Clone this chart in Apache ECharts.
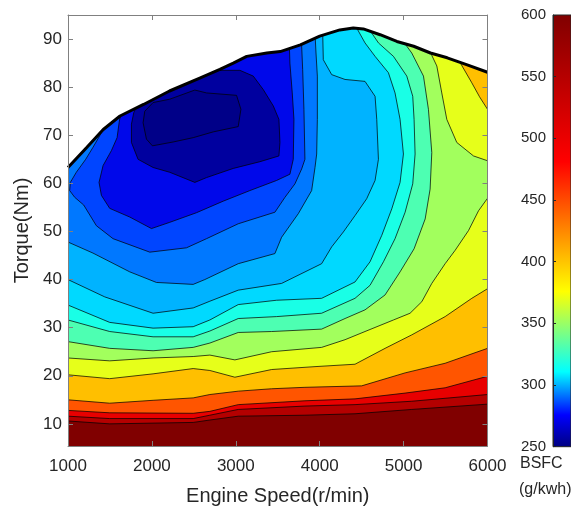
<!DOCTYPE html>
<html><head><meta charset="utf-8">
<script src="https://cdn.jsdelivr.net/npm/echarts@6/dist/echarts.min.js"></script>
<style>html,body{margin:0;padding:0;background:#fff}#chart{width:571px;height:511px}</style>
</head><body><div id="chart"></div>
<script>
// ---------------- data ----------------
const speedTicks  = [1000, 2000, 3000, 4000, 5000, 6000];
const torqueTicks = [10, 20, 30, 40, 50, 60, 70, 80, 90];
const bsfcTicks   = [250, 300, 350, 400, 450, 500, 550, 600];

// full-load (max torque) curve
const fullLoadSpeed  = [1000,1220,1420,1620,1900,2210,2570,2810,2970,3130,3370,3530,3770,4000,4240,4400,4520,4720,4920,5120,5320,5520,5750,6000];
const fullLoadTorque = [63.3,67.4,71.2,74.0,76.4,79.2,81.9,83.7,85.0,86.4,87.1,87.4,88.8,90.6,91.9,92.3,92.1,90.9,89.5,88.5,87.1,86.1,84.7,83.1];

// iso-BSFC contour lines, [speed r/min, torque Nm], innermost (c01) to outermost (c15)
const c01 = [[1915,75.0],[2014,76.8],[2213,77.5],[2512,79.4],[2651,78.8],[3009,78.3],[3061,75.4],[3029,71.8],[2731,70.7],[2492,69.5],[2253,68.6],[2006,67.8],[1935,69.2],[1895,72.6],[1915,75.0]];
const c02 = [[1855,77.5],[1784,74.7],[1756,72.3],[1756,68.5],[1835,65.0],[2014,63.3],[2213,62.3],[2512,60.2],[2651,61.2],[2969,63.1],[3287,64.5],[3514,65.7],[3526,68.5],[3514,73.3],[3447,76.1],[3327,79.5],[3208,82.3],[3049,83.5],[2810,83.5],[2631,83.0],[2611,84.0]];
const c03 = [[1636,75.4],[1609,72.6],[1585,69.5],[1517,66.8],[1418,63.7],[1370,60.2],[1398,57.5],[1497,54.8],[1736,53.0],[1995,50.6],[2213,51.9],[2532,53.9],[2850,56.3],[3168,58.5],[3486,60.6],[3645,61.9],[3685,65.0],[3693,73.3],[3673,78.8],[3645,85.0],[3637,89.5]];
const c04 = [[1457,72.6],[1378,69.9],[1298,67.5],[1211,65.0],[1099,62.3],[1028,60.2],[1020,58.5],[1080,57.1],[1187,55.5],[1338,51.2],[1537,48.5],[1975,45.7],[2412,46.6],[2651,48.5],[3029,51.6],[3466,54.0],[3586,57.1],[3705,59.9],[3785,63.0],[3824,65.0],[3812,75.4],[3797,83.7],[3781,90.2]];
const c05 = [[1000,47.8],[1298,45.5],[1736,41.6],[2054,39.4],[2492,39.0],[2631,40.0],[3029,43.3],[3466,45.4],[3546,48.8],[3745,53.7],[3904,58.5],[3944,63.3],[3964,66.1],[3972,73.3],[3972,82.3],[3956,87.1],[3944,91.2]];
const c06 = [[1000,40.0],[1438,36.4],[2014,33.0],[2492,34.1],[2691,35.5],[3029,37.8],[3546,39.2],[4023,43.3],[4143,46.8],[4282,49.9],[4421,53.3],[4560,56.8],[4660,60.6],[4700,65.0],[4680,73.3],[4660,78.1],[4540,81.2],[4302,81.6],[4143,82.6],[4043,85.7],[4035,91.9]];
const c07 = [[1000,34.7],[1497,31.1],[2014,29.9],[2492,30.2],[2691,31.6],[3029,34.8],[3486,35.7],[4023,36.1],[4421,39.5],[4600,43.7],[4740,49.2],[4859,54.7],[4958,60.2],[4998,66.1],[4958,73.3],[4898,78.8],[4819,83.0],[4660,86.4],[4540,89.2],[4409,93.3]];
const c08 = [[1000,31.6],[1497,29.2],[2014,28.1],[2492,28.1],[2691,29.3],[3029,31.9],[3486,32.3],[4023,33.0],[4421,36.1],[4600,38.8],[4760,43.7],[4898,48.5],[5018,54.0],[5109,59.9],[5137,66.1],[5125,73.3],[5109,78.1],[5038,82.3],[4879,86.4],[4700,89.2],[4552,93.0]];
const c09 = [[1000,27.1],[1497,25.7],[2014,25.2],[2492,25.9],[2691,26.8],[3029,29.0],[3427,29.2],[4023,29.7],[4302,31.9],[4540,33.7],[4779,36.8],[4958,41.6],[5125,46.4],[5257,52.6],[5316,58.8],[5336,66.4],[5296,75.4],[5237,82.3],[5097,87.1],[4938,90.9]];
const c10 = [[1000,23.7],[1497,23.1],[2014,23.7],[2492,24.0],[2691,24.3],[2989,23.3],[3427,25.0],[4023,25.9],[4302,27.5],[4540,29.2],[4879,31.6],[5077,33.0],[5217,35.4],[5336,39.2],[5495,43.3],[5615,46.1],[5774,50.2],[5893,54.3],[6000,56.9]];
const c10b = [[6000,64.7],[5833,65.7],[5634,68.5],[5515,73.3],[5455,78.8],[5396,84.4],[5296,88.1]];
const c11 = [[1000,20.2],[1497,19.4],[2014,20.4],[2492,21.5],[2691,21.1],[2989,19.7],[3427,21.3],[3944,21.9],[4421,22.4],[4779,25.7],[5097,28.5],[5495,32.3],[5813,36.1],[6000,38.1]];
const c11b = [[6000,75.4],[5905,78.0],[5813,80.9],[5654,85.7]];
const c12 = [[1000,15.0],[1497,14.3],[2014,14.9],[2492,15.4],[2691,16.1],[3029,16.8],[3427,17.3],[3824,17.6],[4500,17.9],[5018,20.6],[5495,22.6],[6000,25.7]];
const c13 = [[1000,12.8],[1497,12.3],[2492,12.2],[2691,12.6],[3029,14.0],[3824,14.8],[4421,15.2],[5018,16.4],[5495,17.5],[6000,19.9]];
const c14 = [[1000,11.6],[1497,11.1],[2492,11.1],[2691,11.8],[3029,13.0],[3824,13.7],[4421,14.0],[5097,14.7],[6000,16.1]];
const c15 = [[1000,10.6],[1497,10.0],[2492,10.3],[2691,10.8],[3029,11.6],[3824,11.8],[4421,12.1],[5097,13.0],[6000,14.1]];

// colour bar key points (value -> jet colour)
const cbStopValues = [250, 276, 311, 376, 481, 600];
const cbStopColors = ['#000080', '#0000ff', '#00ffff', '#ffff00', '#ff0000', '#800000'];

// ---------------- styles ----------------
const bandColors = ['#800000','#b40000','#e80000','#ff5500','#ffbf00','#e6ff1a','#a2ff5d','#4dffb2','#19ffe6','#00d9ff','#00b3ff','#0078ff','#0045ff','#0008ea','#00009f','#000088'];
const FONT = 'Liberation Sans, Arial, Helvetica, sans-serif';
const AXIS_GRAY = '#808080';
const TXT = '#262626';
const Y_MIN = 5.4, Y_TOP = 95;

function closeToTop(line) {
  const f = line[0], l = line[line.length - 1];
  return line.concat([[l[0], Y_TOP], [f[0], Y_TOP]]);
}
const regionPolys = [
  [[1000, Y_MIN], [6000, Y_MIN], [6000, Y_TOP], [1000, Y_TOP]],
  closeToTop(c15), closeToTop(c14), closeToTop(c13), closeToTop(c12),
  closeToTop(c11.concat(c11b)), closeToTop(c10.concat(c10b)),
  closeToTop(c09), closeToTop(c08), closeToTop(c07), closeToTop(c06), closeToTop(c05),
  closeToTop(c04), closeToTop(c03), closeToTop(c02), c01
];
const contourLines = [c01,c02,c03,c04,c05,c06,c07,c08,c09,c10,c10b,c11,c11b,c12,c13,c14,c15];
const fullLoad = fullLoadSpeed.map((s, i) => [s, fullLoadTorque[i]]);
const maskPoly = fullLoad.concat([[6000, Y_TOP], [1000, Y_TOP]]);

const chart = echarts.init(document.getElementById('chart'), null, {renderer: 'canvas'});

function tickAxis(extra) {
  return Object.assign({
    axisLine: {show: true, onZero: false, lineStyle: {color: AXIS_GRAY, width: 1}},
    axisTick: {show: true, inside: true, length: 5, lineStyle: {color: AXIS_GRAY}},
    splitLine: {show: false},
    z: 10
  }, extra);
}

const option = {
  animation: false,
  backgroundColor: '#fff',
  textStyle: {fontFamily: FONT},
  grid: [
    {left: 68, top: 15, width: 419.5, height: 432.7},
    {left: 553, top: 15, width: 18, height: 431.7}
  ],
  xAxis: [
    tickAxis({type: 'value', gridIndex: 0, min: 1000, max: 6000, interval: 1000, position: 'bottom',
      axisLabel: {fontSize: 17, color: TXT, margin: 12, fontFamily: FONT, formatter: v => String(v)},
      name: 'Engine Speed(r/min)', nameLocation: 'middle', nameGap: 40,
      nameTextStyle: {fontSize: 20, color: TXT, fontFamily: FONT}}),
    tickAxis({type: 'value', gridIndex: 0, min: 1000, max: 6000, interval: 1000, position: 'top',
      axisLabel: {show: false}}),
    {type: 'value', gridIndex: 1, min: 0, max: 1, show: false}
  ],
  yAxis: [
    tickAxis({type: 'value', gridIndex: 0, min: Y_MIN, max: Y_TOP, splitNumber: 9, position: 'left',
      axisTick: {show: true, inside: true, length: 5, lineStyle: {color: AXIS_GRAY}, customValues: torqueTicks},
      axisLabel: {fontSize: 17, color: TXT, margin: 6, fontFamily: FONT, customValues: torqueTicks,
        formatter: v => (torqueTicks.indexOf(Math.round(v)) >= 0 && Math.abs(v - Math.round(v)) < 1e-6) ? String(Math.round(v)) : ''},
      name: 'Torque(Nm)', nameLocation: 'middle', nameGap: 32, nameRotate: 90,
      nameTextStyle: {fontSize: 20, color: TXT, fontFamily: FONT}}),
    tickAxis({type: 'value', gridIndex: 0, min: Y_MIN, max: Y_TOP, splitNumber: 9, position: 'right',
      axisTick: {show: true, inside: true, length: 5, lineStyle: {color: AXIS_GRAY}, customValues: torqueTicks},
      axisLabel: {show: false}}),
    {type: 'value', gridIndex: 1, min: 250, max: 600, interval: 50, position: 'left', z: 10,
      axisLine: {show: true, lineStyle: {color: TXT, width: 1}},
      axisTick: {show: true, inside: true, length: 3, lineStyle: {color: TXT}},
      axisLabel: {fontSize: 15, color: TXT, margin: 7, fontFamily: FONT},
      splitLine: {show: false}}
  ],
  graphic: [
    {type: 'text', left: 520, top: 456, style: {text: 'BSFC', fontSize: 16, fill: TXT, fontFamily: FONT}},
    {type: 'text', left: 519, top: 482, style: {text: '(g/kwh)', fontSize: 16, fill: TXT, fontFamily: FONT}}
  ],
  series: [
    { // filled iso-BSFC bands
      type: 'custom', xAxisIndex: 0, yAxisIndex: 0, clip: true, z: 1, silent: true,
      data: regionPolys.map((p, i) => [1000, 10, i]),
      renderItem: (params, api) => {
        const i = api.value(2);
        return {type: 'polygon', shape: {points: regionPolys[i].map(p => api.coord(p))},
          style: {fill: bandColors[i], stroke: null}};
      }
    },
    { // contour lines
      type: 'custom', xAxisIndex: 0, yAxisIndex: 0, clip: true, z: 2, silent: true,
      data: contourLines.map((p, i) => [1000, 10, i]),
      renderItem: (params, api) => {
        const i = api.value(2);
        return {type: 'polyline', shape: {points: contourLines[i].map(p => api.coord(p))},
          style: {fill: null, stroke: '#000', lineWidth: 0.8, opacity: 0.9}};
      }
    },
    { // white area above the full-load curve
      type: 'custom', xAxisIndex: 0, yAxisIndex: 0, clip: true, z: 3, silent: true,
      data: [[1000, 10, 0]],
      renderItem: (params, api) => ({type: 'polygon', shape: {points: maskPoly.map(p => api.coord(p))},
        style: {fill: '#fff', stroke: null}})
    },
    { // full-load curve
      type: 'line', xAxisIndex: 0, yAxisIndex: 0, z: 4, silent: true,
      data: fullLoad, symbol: 'none', smooth: false,
      lineStyle: {color: '#000', width: 3}
    },
    { // colour bar
      type: 'custom', xAxisIndex: 2, yAxisIndex: 2, z: 1, silent: true,
      data: [[0, 250]],
      renderItem: (params, api) => {
        const p0 = api.coord([0, 600]), p1 = api.coord([1, 250]);
        const stops = cbStopValues.map((v, i) => ({offset: (v - 250) / 350, color: cbStopColors[i]}));
        return {type: 'rect', shape: {x: p0[0], y: p0[1], width: p1[0] - p0[0], height: p1[1] - p0[1]},
          style: {fill: {type: 'linear', x: 0, y: 1, x2: 0, y2: 0, colorStops: stops}, stroke: TXT, lineWidth: 1}};
      }
    }
  ]
};
chart.setOption(option);
</script>
</body></html>
